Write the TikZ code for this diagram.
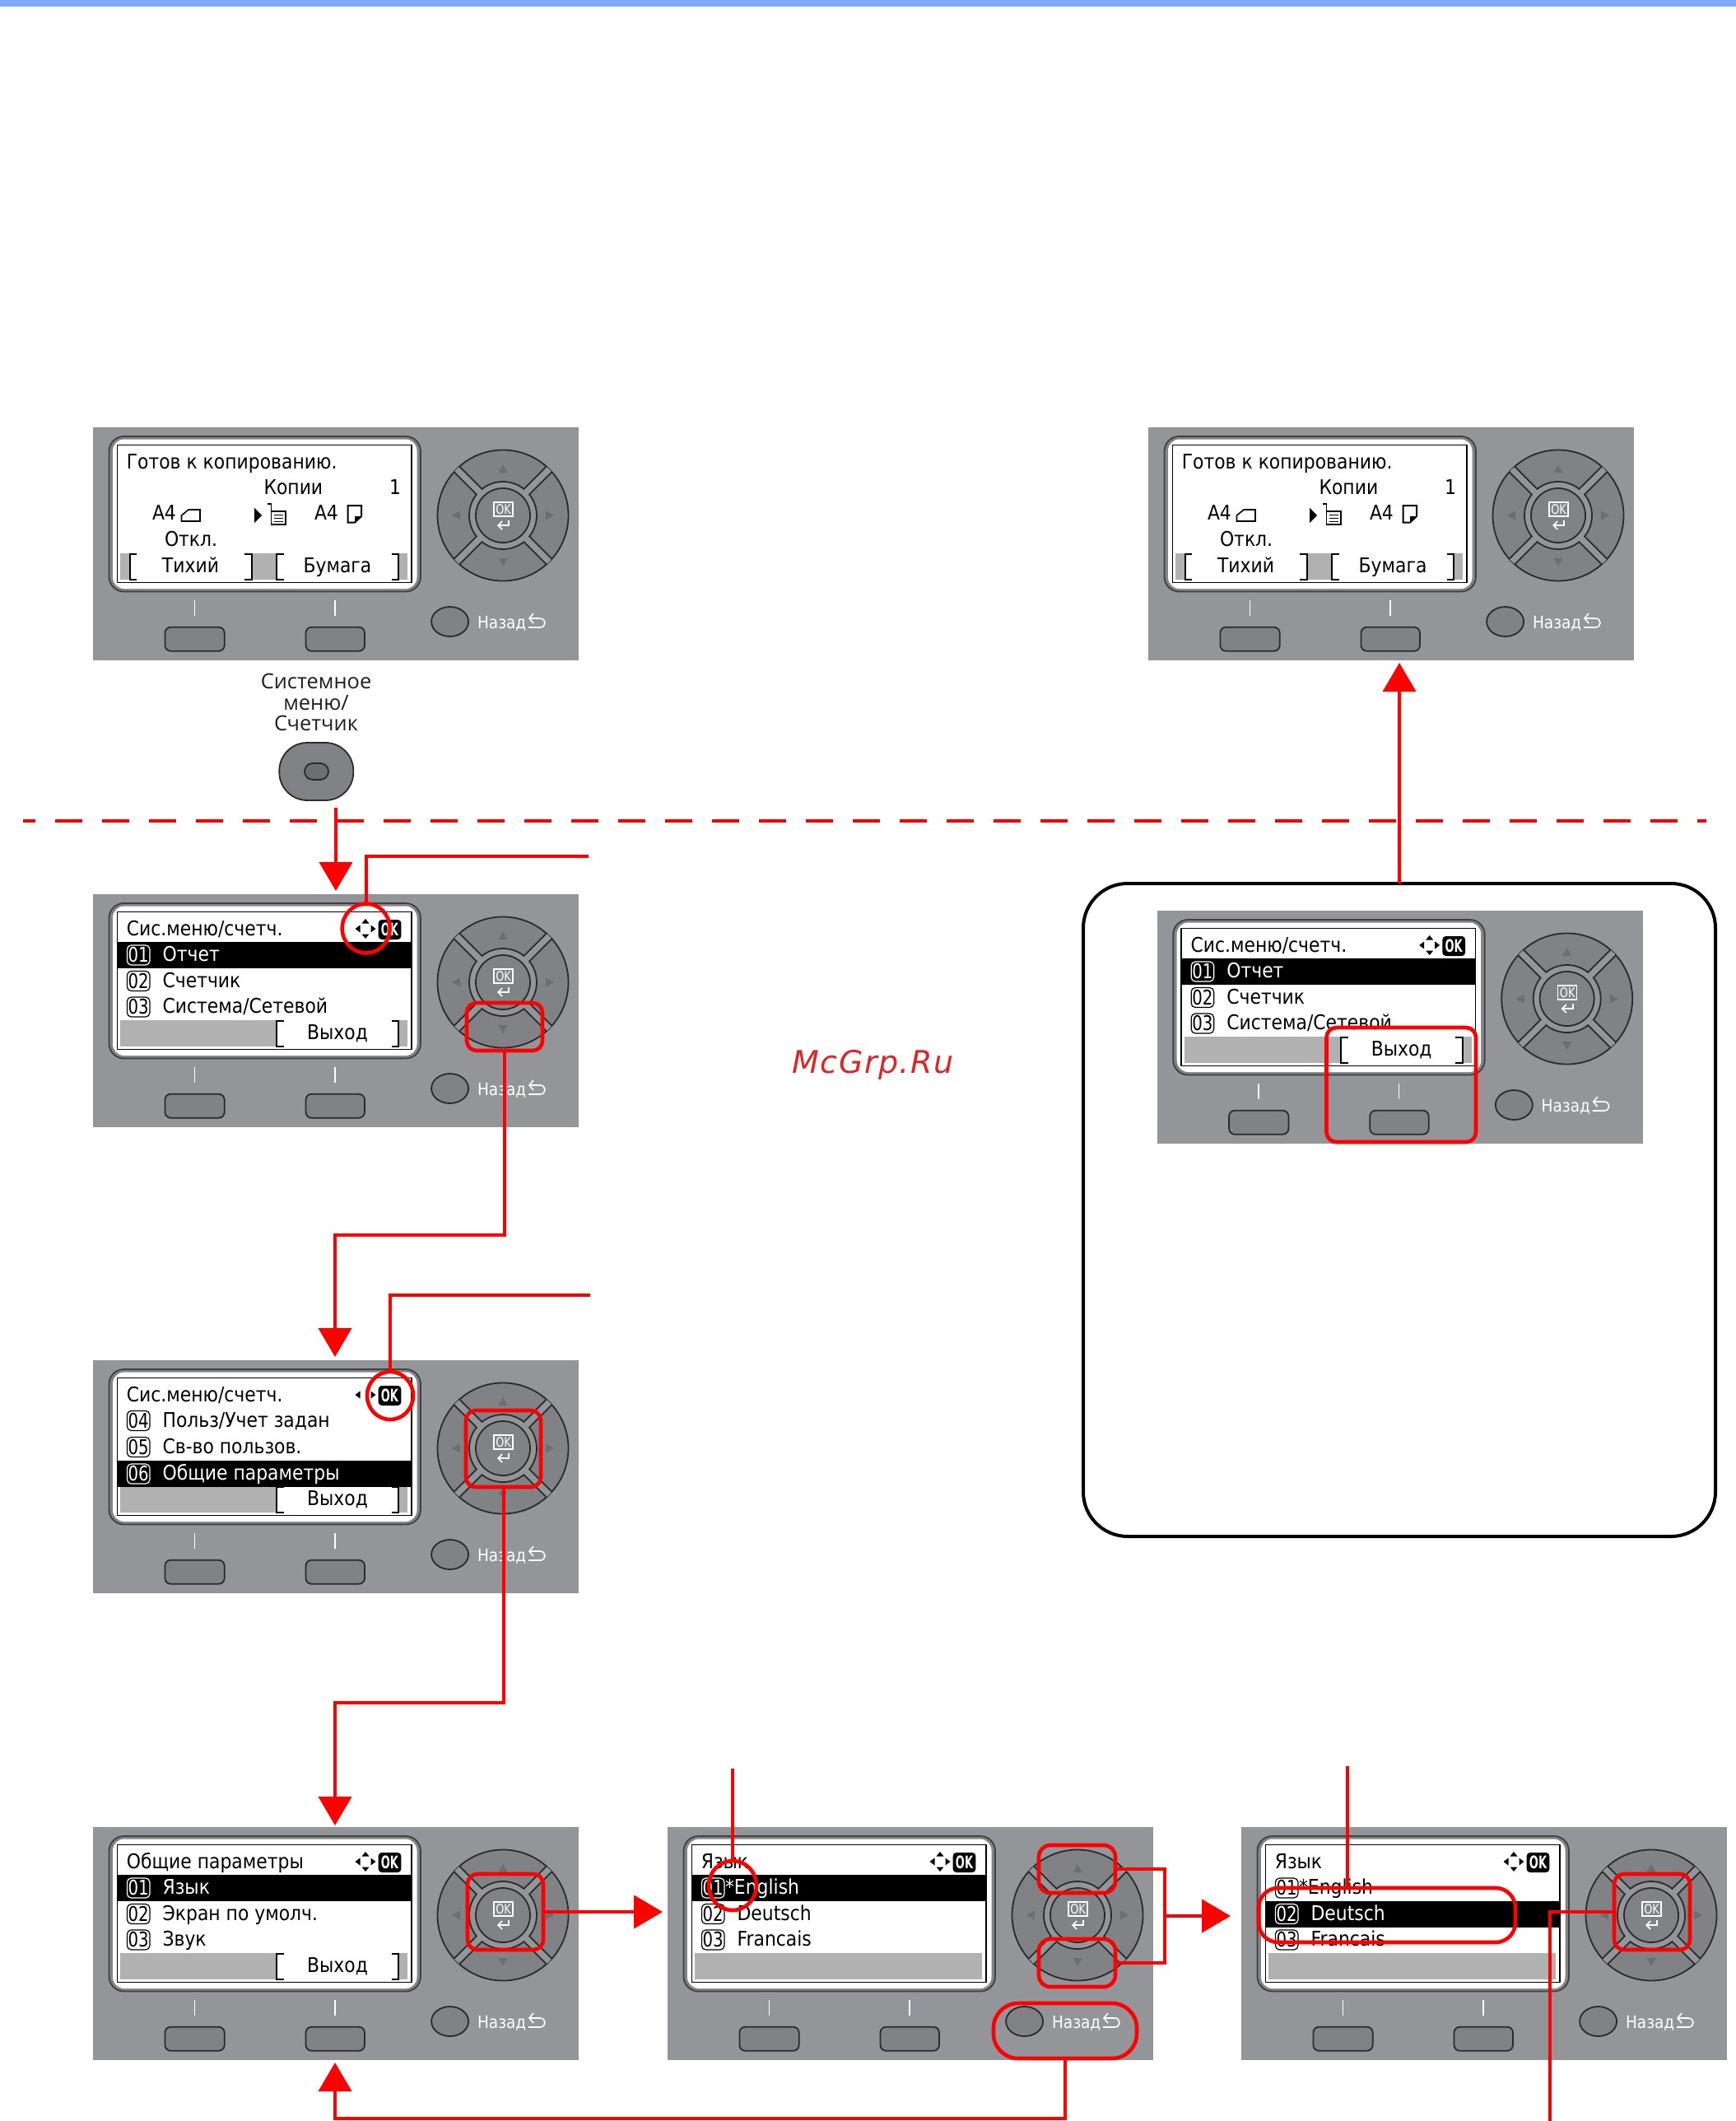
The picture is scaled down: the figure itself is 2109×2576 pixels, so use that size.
\documentclass[tikz,border=0pt]{standalone}
\usepackage{fontspec}
\usetikzlibrary{arrows.meta,shapes.geometric}
\setmainfont{DejaVu Sans}
\newfontfamily\lcd[FakeStretch=0.89]{DejaVu Sans}
\newfontfamily\lcdnum[FakeStretch=0.8]{DejaVu Sans}
\newfontfamily\okfont[FakeStretch=0.62]{DejaVu Sans}
\newfontfamily\lblfont{Open Sans}
\newfontfamily\mcg[LetterSpace=4]{DejaVu Sans}
\definecolor{panelgray}{HTML}{939598}
\definecolor{btngray}{HTML}{808285}
\definecolor{softgray}{HTML}{B1B1B1}
\definecolor{edge}{HTML}{2B2B2D}
\definecolor{arrowgray}{HTML}{6D6E71}
\definecolor{hot}{HTML}{FE0000}
\definecolor{topbar}{HTML}{80ABF8}
\definecolor{wm}{HTML}{DC2626}
\tikzset{
  x=0.5pt,y=-0.5pt,
  lcdtext/.style={inner sep=0,outer sep=0,font=\lcd\fontsize{12.3}{14}\selectfont,text=black},
  lcdbase/.style={lcdtext,anchor=base west},
  lcdmid/.style={lcdtext,anchor=base},
  badge/.style={lcdtext,font=\lcdnum\fontsize{12.3}{14}\selectfont,line width=0.6pt,rounded corners=2.5pt,minimum width=13.75pt,minimum height=12pt},
  softkey/.style={draw=edge,line width=0.9pt,fill=btngray,rounded corners=3.5pt},
  redline/.style={draw=hot,line width=2pt,line join=miter},
  redarrow/.style={redline,-{Triangle[width=20pt,length=17.5pt]}},
  redrect/.style={draw=hot,line width=2.3pt,inner sep=0,outer sep=0,fill=none},
  redoval/.style={ellipse,draw=hot,line width=2.3pt,inner sep=0,outer sep=0,fill=none},
  bracket/.style={draw=black,line width=1pt},
}
% --- red highlight boxes: name, x1, y1, x2, y2, corner radius
\newcommand\RBox[6]{\node[redrect,rounded corners=#6,minimum width={(#4-#2)*0.5pt},minimum height={(#5-#3)*0.5pt}] (#1) at ({(#2+#4)/2},{(#3+#5)/2}) {};}
\newcommand\ROval[5]{\node[redoval,minimum width={2*#4*0.5pt},minimum height={2*#5*0.5pt}] (#1) at (#2,#3) {};}
% --- the body of a control panel
\newcommand\PanelBase{%
  \fill[panelgray] (0,0) rectangle (590,282.5);
  \draw[edge!80!panelgray,line width=0.9pt,fill=panelgray!88!black,rounded corners=9pt] (19.5,11) rectangle (398,199.5);
  \fill[white,rounded corners=7pt] (24,14.5) rectangle (393.5,196);
  \draw[black,line width=0.6pt] (29.3,21.7) rectangle (387,188.3);
  % dial
  \begin{scope}[shift={(498,107)}]
    \filldraw[fill=btngray,draw=edge,line width=0.9pt] (0,0) circle [radius=79.5];
    \begin{scope}
      \clip (0,0) circle [radius=79.5];
      \draw[edge,line width=5.6pt] (-60,-60) -- (60,60) (-60,60) -- (60,-60);
      \draw[panelgray,line width=3.6pt] (-60,-60) -- (60,60) (-60,60) -- (60,-60);
    \end{scope}
    \filldraw[fill=panelgray,draw=edge,line width=0.9pt] (0,0) circle [radius=41];
    \draw[panelgray,line width=3.6pt] (-31,-31) -- (-26,-26) (31,31) -- (26,26) (-31,31) -- (-26,26) (31,-31) -- (26,-26);
    \filldraw[fill=btngray,draw=edge,line width=0.9pt] (0,0) circle [radius=33];
    \fill[arrowgray] (0,-62) -- (5.5,-52) -- (-5.5,-52) -- cycle;
    \fill[arrowgray] (0,62) -- (5.5,52) -- (-5.5,52) -- cycle;
    \fill[arrowgray] (-62,0) -- (-52,5.5) -- (-52,-5.5) -- cycle;
    \fill[arrowgray] (62,0) -- (52,5.5) -- (52,-5.5) -- cycle;
    \draw[white,line width=0.7pt] (-11,-16) rectangle (12,1);
    \node[inner sep=0,text=white,font=\lcdnum\fontsize{8}{9}\selectfont] (dialok) at (0.5,-7.5) {OK};
    \draw[white,line width=0.8pt,-{Straight Barb[length=2.5pt,width=5pt]}] (7,6) -- (7,12) -- (-7,12);
  \end{scope}
  % soft keys
  \draw[white,line width=0.7pt] (123.4,210) -- (123.4,229) (294,210) -- (294,229);
  \draw[softkey] (87.4,242.7) rectangle (159.7,271.7);
  \draw[softkey] (258.5,242.7) rectangle (330,271.7);
  % back key
  \filldraw[fill=btngray,draw=edge,line width=0.9pt] (433.6,236) ellipse [x radius=22.5,y radius=18];
  \node[lcdbase,text=white,font=\lcd\fontsize{10.4}{12}\selectfont] (back) at (467,244) {Назад};
  \draw[white,line width=0.8pt,{Straight Barb[length=2.5pt,width=6pt]}-] (529,232) -- (543,232) .. controls (551,232) and (551,243) .. (543,243) -- (529,243);
}
% --- screen pieces
\newcommand\SoftBar{\fill[softgray] (33,153) rectangle (382,185);}
\newcommand\SoftSlot[2]{%
  \fill[white] (#1,153) rectangle (#2,185);
  \draw[bracket] (#1+8.5,153.5) -- (#1,153.5) -- (#1,184.5) -- (#1+8.5,184.5);
  \draw[bracket] (#2-8.5,153.5) -- (#2,153.5) -- (#2,184.5) -- (#2-8.5,184.5);
}
\newcommand\SoftExit{\SoftSlot{223.4}{371}\node[lcdmid] (softexit) at (297,176.5) {Выход};}
\newcommand\MoveIcon{%
  \fill (331,30) -- (335.5,35.5) -- (326.5,35.5) -- cycle;
  \fill (331,54) -- (335.5,48.5) -- (326.5,48.5) -- cycle;
  \MoveSide
}
\newcommand\MoveSide{%
  \fill (318.5,42) -- (324.5,37.5) -- (324.5,46.5) -- cycle;
  \fill (343.5,42) -- (337.5,37.5) -- (337.5,46.5) -- cycle;
}
\newcommand\OkBlock{%
  \fill[black,rounded corners=2pt] (346.7,31) rectangle (374.3,55);
  \node[inner sep=0,text=white,font=\okfont\bfseries\fontsize{10.5}{12}\selectfont] (okb) at (360.5,43) {OK};
}
\newcommand\Title[1]{\node[lcdbase] (title) at (40.8,50.5) {#1};}
% name, y centre, baseline, number, text
\newcommand\MenuRow[5]{%
  \node[badge,draw=black] (b#1) at (55.2,#2) {#4};
  \node[lcdbase] (t#1) at (84.6,#3) {#5};
}
\newcommand\MenuRowHL[5]{%
  \fill[black] (29.3,#2-16) rectangle (387,#2+16);
  \node[badge,text=white,draw=white] (b#1) at (55.2,#2) {#4};
  \node[lcdbase,text=white] (t#1) at (84.6,#3) {#5};
}
\newcommand\HomeScreen{%
  \SoftBar\SoftSlot{44.7}{192.5}\SoftSlot{223.4}{371}
  \Title{Готов к копированию.}
  \node[lcdbase] (copies) at (207.5,81) {Копии};
  \node[lcdtext,anchor=base east] (num) at (374,81) {1};
  \node[lcdbase] (a4l) at (72,112.5) {A4};
  \draw[black,line width=0.8pt] (107.5,114) -- (130,114) -- (130,100) -- (116,100) -- (107.5,107) -- cycle;
  \fill (196,97.7) -- (205,107) -- (196,116) -- cycle;
  \draw[black,line width=0.8pt] (212,93) -- (216.5,93) -- (216.5,118) -- (234,118) -- (234,102) -- (216.5,102);
  \draw[black,line width=0.6pt] (220,106.5) -- (231,106.5) (220,110.5) -- (231,110.5) (220,114.5) -- (231,114.5);
  \node[lcdbase] (a4p) at (269,112.5) {A4};
  \draw[black,line width=1pt] (309.5,95) -- (326,95) -- (326,108) -- (318,115.5) -- (309.5,115.5) -- cycle;
  \fill (326,108) -- (318,108) -- (318,115.5) -- cycle;
  \node[lcdbase] (off) at (87,144) {Откл.};
  \node[lcdmid] (quiet) at (118.5,176.5) {Тихий};
  \node[lcdmid] (paper) at (297,176.5) {Бумага};
}
\newcommand\SysScreen{%
  \SoftBar\SoftExit
  \Title{Сис.меню/счетч.}\MoveIcon\OkBlock
  \MenuRowHL{1}{74}{81.5}{01}{Отчет}
  \MenuRow{2}{105.5}{113}{02}{Счетчик}
  \MenuRow{3}{137}{144.5}{03}{Система/Сетевой}
}
\newcommand\LangScreen{%
  \SoftBar
  \Title{Язык}\MoveIcon\OkBlock
}
\begin{document}
\begin{tikzpicture}
\useasboundingbox (0,0) rectangle (2109,2576);
\fill[white] (0,0) rectangle (2109,2576);
\fill[topbar] (0,0) rectangle (2109,8);

% ---------- panels
\begin{scope}[shift={(113,519)},name prefix=pa-]\PanelBase\HomeScreen\end{scope}
\begin{scope}[shift={(1395,519)},name prefix=pb-]\PanelBase\HomeScreen\end{scope}
\begin{scope}[shift={(113,1086)},name prefix=pc-]\PanelBase\SysScreen\end{scope}
\begin{scope}[shift={(113,1652)},name prefix=pd-]
  \PanelBase\SoftBar\SoftExit
  \Title{Сис.меню/счетч.}\MoveSide\OkBlock
  \MenuRow{1}{73.5}{81.5}{04}{Польз/Учет задан}
  \MenuRow{2}{105.5}{113}{05}{Св-во пользов.}
  \MenuRowHL{3}{138}{145.5}{06}{Общие параметры}
\end{scope}
\begin{scope}[shift={(113,2219)},name prefix=pe-]
  \PanelBase\SoftBar\SoftExit
  \Title{Общие параметры}\MoveIcon\OkBlock
  \MenuRowHL{1}{74}{81.5}{01}{Язык}
  \MenuRow{2}{105.5}{113}{02}{Экран по умолч.}
  \MenuRow{3}{137}{144.5}{03}{Звук}
\end{scope}
\begin{scope}[shift={(811,2219)},name prefix=pf-]
  \PanelBase\LangScreen
  \MenuRowHL{1}{74}{81.5}{01}{}
  \node[lcdbase,text=white] (star) at (70,81.5) {*English};
  \MenuRow{2}{105.5}{113}{02}{Deutsch}
  \MenuRow{3}{137}{144.5}{03}{Francais}
\end{scope}
\begin{scope}[shift={(1508,2219)},name prefix=pg-]
  \PanelBase\LangScreen
  \MenuRow{1}{74}{81.5}{01}{}
  \node[lcdbase] (star) at (70,81.5) {*English};
  \MenuRowHL{2}{105.5}{113}{02}{Deutsch}
  \MenuRow{3}{137}{144.5}{03}{Francais}
\end{scope}

% ---------- large frame with its panel
\node[draw=black,line width=2pt,rounded corners=27pt,minimum width=384pt,minimum height=396.5pt,inner sep=0,outer sep=0] (frame) at (1700,1469.5) {};
\begin{scope}[shift={(1405.7,1106)},name prefix=ph-]\PanelBase\SysScreen\end{scope}

% ---------- system menu key
\node[inner sep=0,align=center,text=black!88,font=\lblfont\fontsize{12.7}{12.8}\selectfont] (syslabel) at (384,853) {Системное\\меню/\\Счетчик};
\node[draw=edge,line width=0.9pt,fill=btngray,rounded corners=17pt,minimum width=45pt,minimum height=35pt,inner sep=0] (sysbtn) at (384.3,937) {};
\node[draw=edge,line width=0.9pt,fill=arrowgray,rounded corners=5pt,minimum width=14.5pt,minimum height=10pt,inner sep=0] (sysdot) at (384.5,937) {};

% ---------- watermark
\node[inner sep=0,anchor=base west,text=wm,font=\mcg\itshape\fontsize{19}{22}\selectfont] (mark) at (962,1303) {McGrp.Ru};

% ---------- dashed separator
\coordinate (dashL) at (10,997);
\coordinate (dashR) at (2073,997);
\begin{scope}
  \clip (28,980) rectangle (2109,1010);
  \draw[hot,line width=2pt,dash pattern=on 16.5pt off 12pt] (dashL) -- (dashR);
\end{scope}

% ---------- red highlights
\ROval{ca}{444.7}{1127.5}{29}{30}
\RBox{ka}{567}{1218}{659}{1276}{6pt}
\ROval{cb}{474}{1695}{28}{29}
\RBox{kb}{566}{1713}{657}{1806}{6pt}
\RBox{kc}{568}{2276}{660}{2368}{6pt}
\ROval{cd}{890}{2290}{29}{30}
\RBox{ke}{1262}{2241}{1355}{2299}{7pt}
\RBox{kf}{1262}{2355}{1355}{2413}{7pt}
\RBox{kg}{1207}{2433}{1381}{2500}{15pt}
\RBox{oh}{1529}{2293}{1841}{2359}{12pt}
\RBox{kh}{1961}{2276}{2053}{2368}{6pt}
\RBox{kx}{1611.5}{1248}{1793}{1387}{6pt}

% ---------- connector end points
\coordinate (startA) at (408,981);
\coordinate (tipA) at (408,1082);
\coordinate (endCa) at (715,1040);
\coordinate (ja1) at (613,1500);
\coordinate (ja2) at (407,1500);
\coordinate (tipB) at (407,1648);
\coordinate (endCb) at (717,1573);
\coordinate (jb1) at (611.5,2068);
\coordinate (jb2) at (407,2068);
\coordinate (tipC) at (407,2217);
\coordinate (tipD) at (805,2322);
\coordinate (endCd) at (890,2148);
\coordinate (je1) at (1415,2270);
\coordinate (je2) at (1415,2384);
\coordinate (jeM) at (1415,2327);
\coordinate (tipE) at (1495,2327);
\coordinate (jg1) at (1294,2573);
\coordinate (jg2) at (407,2573);
\coordinate (tipG) at (407,2505);
\coordinate (endOh) at (1637,2145);
\coordinate (jh1) at (1883,2322);
\coordinate (endKh) at (1883,2576);
\coordinate (tipF) at (1700,805);

% ---------- connectors
\draw[redarrow] (startA) -- (tipA);
\draw[redline] (ca.north) |- (endCa);
\draw[redarrow] (ka.south) -- (ja1) -- (ja2) -- (tipB);
\draw[redline] (cb.north) |- (endCb);
\draw[redarrow] (kb.south) -- (jb1) -- (jb2) -- (tipC);
\draw[redarrow] (kc.east) -- (tipD);
\draw[redline] (cd.north) -- (endCd);
\draw[redline] (ke.east) -- (je1) -- (je2) -- (kf.east);
\draw[redarrow] (jeM) -- (tipE);
\draw[redarrow] (kg.south) -- (jg1) -- (jg2) -- (tipG);
\draw[redline] (endOh |- oh.north) -- (endOh);
\draw[redline] (kh.west) -- (jh1) -- (endKh);
\draw[redarrow] (frame.north) -- (tipF);
\end{tikzpicture}
\end{document}
